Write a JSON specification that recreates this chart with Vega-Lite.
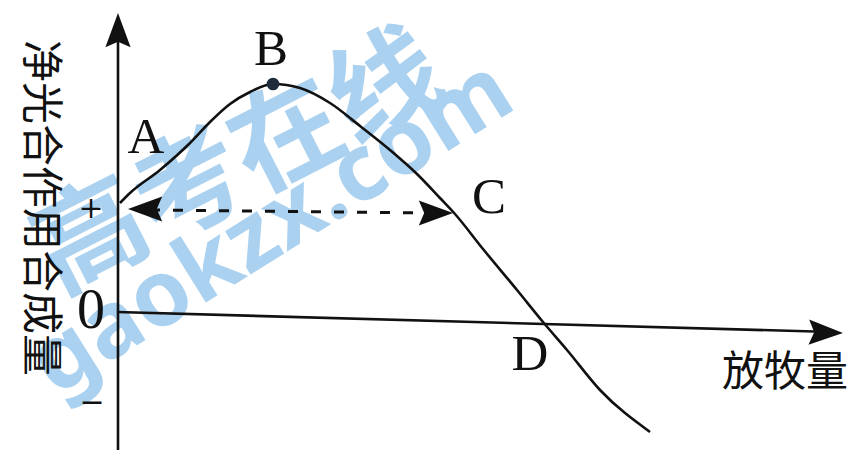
{
  "$schema": "https://vega.github.io/schema/vega-lite/v6.json",
  "width": 851,
  "height": 450,
  "padding": 0,
  "autosize": {"type": "none"},
  "background": "white",
  "config": {"view": {"stroke": null}},
  "datasets": {
    "curve": [
      {"x": 0, "y": 109}, {"x": 10, "y": 119}, {"x": 40, "y": 142}, {"x": 70, "y": 169},
      {"x": 90, "y": 190}, {"x": 110, "y": 208}, {"x": 130, "y": 220}, {"x": 153, "y": 228},
      {"x": 180, "y": 224}, {"x": 210, "y": 209}, {"x": 240, "y": 186}, {"x": 270, "y": 162},
      {"x": 297, "y": 138}, {"x": 320, "y": 114}, {"x": 335, "y": 98}, {"x": 363, "y": 63},
      {"x": 397, "y": 22}, {"x": 423, "y": -10}, {"x": 447, "y": -38}, {"x": 480, "y": -78},
      {"x": 530, "y": -120}
    ],
    "axes": [
      {"name": "yaxis", "x": -2, "y": -140, "x2": -2, "y2": 290},
      {"name": "xaxis", "x": -3, "y": 0, "x2": 712, "y2": -20}
    ],
    "arrows": [
      {"name": "ytip", "x": -2, "y": 281, "angle": 0},
      {"name": "xtip", "x": 705, "y": -20.5, "angle": 91.6},
      {"name": "left", "x": 26, "y": 103, "angle": 270},
      {"name": "right", "x": 315, "y": 99, "angle": 90}
    ],
    "dash": [
      {"x": 30, "y": 102}, {"x": 312, "y": 99}
    ],
    "peak": [{"x": 153, "y": 228}],
    "letters": [
      {"label": "A", "x": 26, "y": 174},
      {"label": "B", "x": 151, "y": 262},
      {"label": "C", "x": 369, "y": 114},
      {"label": "D", "x": 410, "y": -43}
    ],
    "zero": [{"label": "0", "x": -29, "y": 1}],
    "signs": [
      {"label": "+", "x": -29, "y": 103},
      {"label": "−", "x": -28, "y": -91}
    ],
    "cjk": [
      {"label": "放牧量", "x": 665, "y": -61, "angle": 0},
      {"label": "净光合作用合成量", "x": -80, "y": 104, "angle": 90}
    ],
    "wm1": [{"label": "高考在线", "x": 120, "y": 147}],
    "wm2": [{"label": "gaokzx.com", "x": 152, "y": 84}]
  },
  "encoding": {
    "x": {"field": "x", "type": "quantitative", "scale": {"domain": [-120, 731], "nice": false, "zero": false}, "axis": null},
    "y": {"field": "y", "type": "quantitative", "scale": {"domain": [-138, 312], "nice": false, "zero": false}, "axis": null}
  },
  "layer": [
    {
      "data": {"name": "wm1"},
      "mark": {"type": "text", "font": "Noto Sans CJK SC", "fontWeight": "bold", "fontSize": 110, "angle": -27, "color": "#aad1f0", "align": "center", "baseline": "middle"},
      "encoding": {"text": {"field": "label"}}
    },
    {
      "data": {"name": "wm2"},
      "mark": {"type": "text", "font": "Noto Sans", "fontWeight": "bold", "fontSize": 92, "angle": -32, "color": "#aad1f0", "align": "center", "baseline": "middle"},
      "encoding": {"text": {"field": "label"}}
    },
    {
      "data": {"name": "axes"},
      "mark": {"type": "rule", "color": "#111111", "strokeWidth": 2.6},
      "encoding": {"x2": {"field": "x2"}, "y2": {"field": "y2"}}
    },
    {
      "data": {"name": "dash"},
      "mark": {"type": "line", "color": "#111111", "strokeWidth": 3, "strokeDash": [10, 13]},
      "encoding": {}
    },
    {
      "data": {"name": "curve"},
      "mark": {"type": "line", "color": "#111111", "strokeWidth": 2.6, "interpolate": "monotone"},
      "encoding": {}
    },
    {
      "data": {"name": "arrows"},
      "mark": {"type": "point", "shape": "M0,-1L0.7,0.9L0,0.6L-0.7,0.9Z", "filled": true, "color": "#111111", "size": 1296, "opacity": 1},
      "encoding": {"angle": {"field": "angle", "type": "quantitative", "scale": null}}
    },
    {
      "data": {"name": "peak"},
      "mark": {"type": "point", "filled": true, "color": "#1d2b3a", "size": 160, "opacity": 1},
      "encoding": {}
    },
    {
      "data": {"name": "letters"},
      "mark": {"type": "text", "font": "Liberation Serif", "fontSize": 51, "color": "#111111", "align": "center", "baseline": "middle"},
      "encoding": {"text": {"field": "label"}}
    },
    {
      "data": {"name": "zero"},
      "mark": {"type": "text", "font": "Liberation Serif", "fontSize": 56, "color": "#111111", "align": "center", "baseline": "middle"},
      "encoding": {"text": {"field": "label"}}
    },
    {
      "data": {"name": "signs"},
      "mark": {"type": "text", "font": "DejaVu Serif", "fontSize": 30, "color": "#111111", "align": "center", "baseline": "middle"},
      "encoding": {"text": {"field": "label"}}
    },
    {
      "data": {"name": "cjk"},
      "mark": {"type": "text", "font": "Noto Sans CJK SC", "fontSize": 42, "color": "#111111", "align": "center", "baseline": "middle"},
      "encoding": {"text": {"field": "label"}, "angle": {"field": "angle", "type": "quantitative", "scale": null}}
    }
  ]
}
